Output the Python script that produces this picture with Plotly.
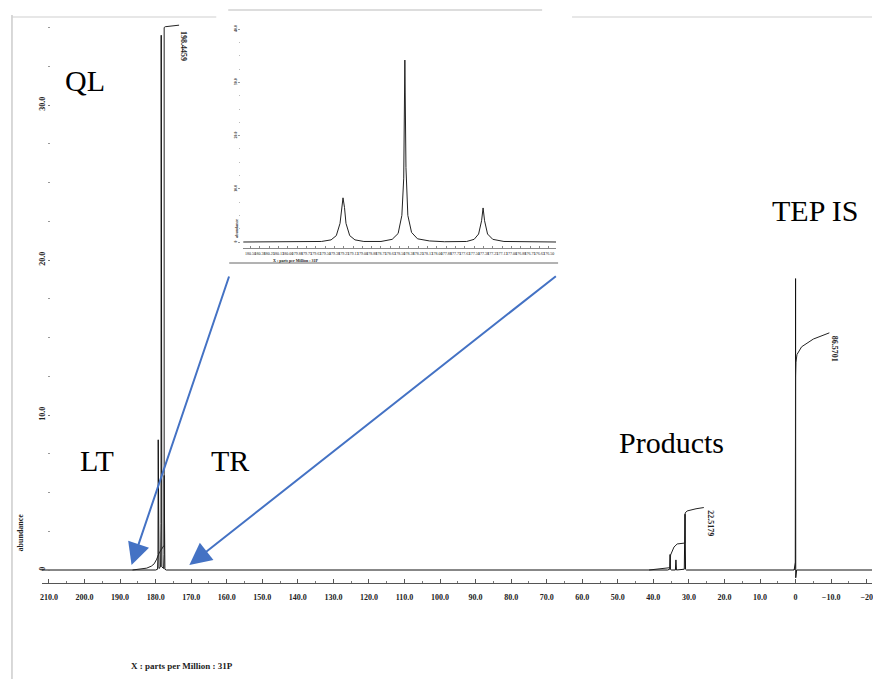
import plotly.graph_objects as go

W, H = 873, 679

# ---------------- data ----------------
# main 31P spectrum: chemical shift (ppm) and intensity
spec_ppm = [212.0, 180.0, 179.45, 179.33, 179.27, 179.21, 179.05, 178.6, 178.48, 178.43, 178.38,
            178.25, 177.75, 177.64, 177.59, 177.54, 177.4, 177.0,
            36.0, 35.4, 35.3, 35.2, 35.0, 33.8, 33.65, 33.5, 31.3, 31.1, 30.95, 30.7,
            0.4, 0.05, 0.0, -0.05, -0.3, -21.5]
spec_int = [0.0, 0.0, 0.05, 1.0, 8.4, 1.0, 0.1, 0.2, 3.0, 34.5, 3.0,
            0.2, 0.1, 1.0, 6.1, 1.0, 0.05, 0.0,
            0.0, 0.05, 1.0, 0.05, 0.0, 0.0, 0.65, 0.0, 0.05, 3.6, 0.05, 0.0,
            0.0, 0.5, 18.8, -0.5, 0.0, 0.0]

# integral curves
ql_int_ppm = [186.5, 184.0, 182.5, 181.2, 180.4, 179.7, 179.0, 177.6, 177.6, 177.3, 173.4]
ql_int_val = [0.0, 0.05, 0.12, 0.25, 0.4, 0.7, 1.1, 1.6, 35.0, 35.05, 35.15]
ql_int_label = "198.4459"

prod_int_ppm = [41.2, 38.9, 36.1, 35.3, 35.15, 34.2, 33.3, 31.4, 31.1, 31.05, 30.5, 28.0, 25.8]
prod_int_val = [0.0, 0.06, 0.13, 0.15, 0.97, 1.48, 1.68, 1.74, 1.74, 3.68, 3.81, 3.95, 4.03]
prod_int_label = "22.5179"

tep_int_ppm = [0.4, 0.05, 0.0, -0.1, -0.4, -1.7, -5.0, -9.5]
tep_int_val = [0.0, 0.2, 12.5, 13.4, 13.9, 14.4, 14.9, 15.3]
tep_int_label = "86.5701"

# main axis ticks
x_tick_vals = [210, 200, 190, 180, 170, 160, 150, 140, 130, 120, 110, 100, 90, 80, 70, 60, 50, 40, 30, 20, 10, 0, -10, -20]
x_tick_text = ["210.0", "200.0", "190.0", "180.0", "170.0", "160.0", "150.0", "140.0", "130.0", "120.0",
               "110.0", "100.0", "90.0", "80.0", "70.0", "60.0", "50.0", "40.0", "30.0", "20.0", "10.0",
               "0", "\u221210.0", "\u221220"]
y_tick_vals = [0, 10, 20, 30]
y_tick_text = ["0", "10.0", "20.0", "30.0"]

# inset: expanded QL region
inset_ppm = [180.6, 179.55, 179.42, 179.35, 179.30, 179.28, 179.26, 179.24, 179.22, 179.17, 179.10, 178.98,
             178.75, 178.60, 178.52, 178.47, 178.445, 178.43, 178.415, 178.39, 178.34, 178.26, 178.1, 177.9,
             177.6, 177.50, 177.44, 177.40, 177.38, 177.36, 177.32, 177.25, 177.1, 176.4]
inset_int = [0.0, 0.1, 0.4, 1.2, 3.5, 6.0, 8.3, 6.5, 3.5, 1.2, 0.4, 0.1,
             0.1, 0.5, 1.6, 5.0, 12.0, 34.2, 14.0, 5.0, 1.8, 0.6, 0.2, 0.05,
             0.1, 0.5, 1.5, 4.0, 6.4, 4.0, 1.5, 0.5, 0.1, 0.0]
inset_y_ticks = [0, 10, 20, 30, 40]
inset_y_text = ["0", "10.0", "20.0", "30.0", "40.0"]

# region labels
region_labels = ["QL", "LT", "TR", "Products", "TEP IS"]

# ---------------- helpers (pixel -> paper) ----------------
def px(x):
    return x / W

def py(y):
    return 1 - y / H

SERIF = "Liberation Serif"
BLUE = "#4472C4"

fig = go.Figure()

fig.add_trace(go.Scatter(x=spec_ppm, y=spec_int, mode="lines",
                         line=dict(color="#111111", width=1), xaxis="x", yaxis="y",
                         hoverinfo="skip"))
for xs, ys in [(ql_int_ppm, ql_int_val), (prod_int_ppm, prod_int_val), (tep_int_ppm, tep_int_val)]:
    fig.add_trace(go.Scatter(x=xs, y=ys, mode="lines", line=dict(color="#222222", width=1),
                             xaxis="x", yaxis="y", hoverinfo="skip"))

fig.add_trace(go.Scatter(x=inset_ppm, y=inset_int, mode="lines",
                         line=dict(color="#222222", width=1), xaxis="x2", yaxis="y2",
                         hoverinfo="skip"))

# main axes geometry
y_px0, y_px_per = 570, 15.5
ybot, ytop = 583, 18
yr = [-(ybot - y_px0) / y_px_per, (y_px0 - ytop) / y_px_per]

# inset geometry
iy0, iy_per = 242, 5.32
iybot, iytop = 248, 20
iyr = [-(iybot - iy0) / iy_per, (iy0 - iytop) / iy_per]

annotations = []
label_pos = [(83, 80), (95, 460), (229, 460), (672, 442), (816, 210)]
for t, (x, y) in zip(region_labels, label_pos):
    annotations.append(dict(text=t, x=px(x), y=py(y), xref="paper", yref="paper", showarrow=False,
                            font=dict(family=SERIF, size=30, color="black"),
                            xanchor="center", yanchor="middle"))

# integral values
for t, xv, yv in [(ql_int_label, 172.0, 33.8), (prod_int_label, 24.0, 3.0), (tep_int_label, -11.0, 14.3)]:
    annotations.append(dict(text="<b>" + t + "</b>", x=xv, y=yv, xref="x", yref="y", showarrow=False,
                            textangle=90, font=dict(family=SERIF, size=8, color="#222")))

# axis titles
annotations.append(dict(text="<b>abundance</b>", x=px(12), y=py(553), xref="paper", yref="paper",
                        showarrow=False, textangle=-90, font=dict(family=SERIF, size=8, color="#222")))
annotations.append(dict(text="<b>X : parts per Million : 31P</b>", x=px(127), y=py(673), xref="paper",
                        yref="paper", showarrow=False, font=dict(family=SERIF, size=9, color="#222")))
annotations.append(dict(text="<b>X : parts per Million : 31P</b>", x=px(270), y=py(260), xref="paper",
                        yref="paper", showarrow=False, font=dict(family=SERIF, size=4, color="#222")))
annotations.append(dict(text="<b>abundance</b>", x=px(231), y=py(228), xref="paper", yref="paper",
                        showarrow=False, textangle=-90, font=dict(family=SERIF, size=4, color="#222")))

# arrows
for (tx, ty), (sx, sy) in [((130, 565), (228, 275)), ((188, 565), (556, 275))]:
    annotations.append(dict(text="", x=px(tx), y=py(ty), xref="paper", yref="paper",
                            ax=sx - tx, ay=sy - ty, axref="pixel", ayref="pixel",
                            showarrow=True, arrowhead=2, arrowsize=2.2, arrowwidth=2,
                            arrowcolor=BLUE, standoff=0))

shapes = [
    dict(type="line", xref="paper", yref="paper", x0=px(10), x1=px(10), y0=py(15), y1=py(679),
         line=dict(color="#cccccc", width=1.5)),
    dict(type="line", xref="paper", yref="paper", x0=px(10), x1=px(215), y0=py(17), y1=py(17),
         line=dict(color="#d0d0d0", width=1.2)),
    dict(type="line", xref="paper", yref="paper", x0=px(572), x1=px(873), y0=py(17), y1=py(17),
         line=dict(color="#d0d0d0", width=1.2)),
    # inset frame lines
    dict(type="line", xref="paper", yref="paper", x0=px(227), x1=px(542), y0=py(10), y1=py(10),
         line=dict(color="#bbbbbb", width=1)),
    dict(type="line", xref="paper", yref="paper", x0=px(228), x1=px(558), y0=py(263), y1=py(263),
         line=dict(color="#666666", width=1)),
]

fig.update_layout(
    width=W, height=H, margin=dict(l=0, r=0, t=0, b=0),
    paper_bgcolor="white", plot_bgcolor="white", showlegend=False,
    xaxis=dict(domain=[px(40), 1.0], range=[212, -21.5], anchor="y",
               showline=True, linecolor="#555555", linewidth=1, showgrid=False, zeroline=False,
               ticks="inside", ticklen=4, tickcolor="#555555",
               tickvals=x_tick_vals, ticktext=["<b>" + t + "</b>" for t in x_tick_text],
               tickfont=dict(family=SERIF, size=8, color="#222"), ticklabelstandoff=6,
               ticklabeloverflow="allow",
               minor=dict(dtick=5, ticks="inside", ticklen=2, tickcolor="#777777")),
    yaxis=dict(domain=[py(ybot), py(ytop)], range=yr, anchor="free", position=px(48),
               showline=False, showgrid=False, zeroline=False,
               ticks="outside", ticklen=2, tickcolor="#777777",
               tickvals=y_tick_vals, ticktext=["<b>" + t + "</b>" for t in y_tick_text],
               tickangle=-90, tickfont=dict(family=SERIF, size=8, color="#222"),
               minor=dict(dtick=2.5, ticks="outside", ticklen=2, tickcolor="#999999")),
    xaxis2=dict(domain=[px(242), px(556)], range=[180.6, 176.4], anchor="y2",
                showline=True, linecolor="#888888", linewidth=1, showgrid=False, zeroline=False,
                ticks="inside", ticklen=2, tickcolor="#888888", dtick=0.125, tick0=176.5,
                tickformat=".2f", tickangle=0,
                tickfont=dict(family=SERIF, size=4, color="#222"), ticklabelstandoff=1),
    yaxis2=dict(domain=[py(iybot), py(iytop)], range=iyr, anchor="free", position=px(239),
                showline=False, showgrid=False, zeroline=False,
                ticks="outside", ticklen=2, tickcolor="#999999",
                tickvals=inset_y_ticks, ticktext=["<b>" + t + "</b>" for t in inset_y_text],
                tickangle=-90, tickfont=dict(family=SERIF, size=4, color="#222"),
                minor=dict(dtick=2.5, ticks="outside", ticklen=1, tickcolor="#bbbbbb")),
    annotations=annotations, shapes=shapes,
)

fig.write_html("out.html")
